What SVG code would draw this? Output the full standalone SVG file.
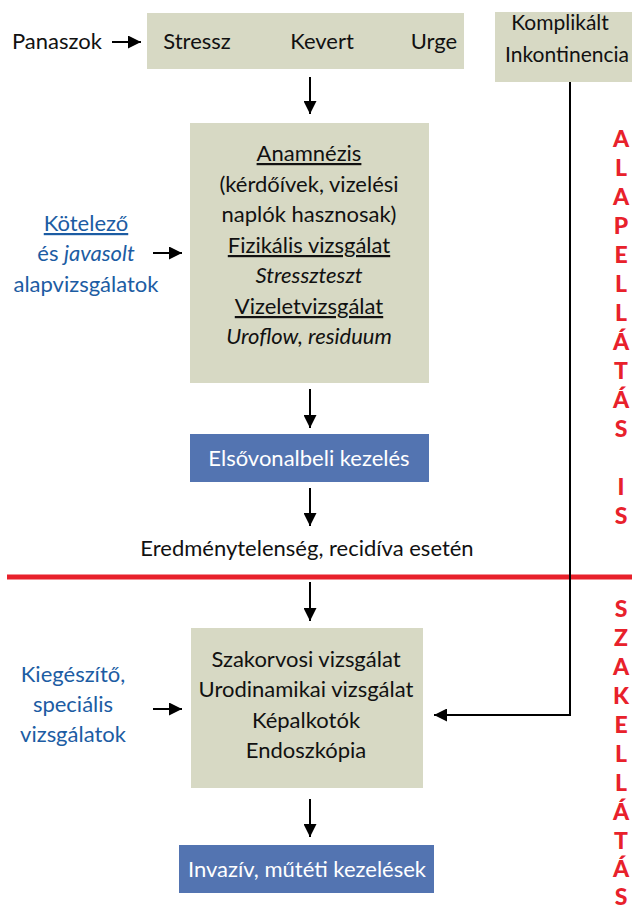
<svg xmlns="http://www.w3.org/2000/svg" width="632" height="909" viewBox="0 0 632 909">
<defs>
<marker id="ah" markerUnits="userSpaceOnUse" markerWidth="13" markerHeight="13" refX="13" refY="6.5" orient="auto">
<path d="M0,0 L13,6.5 L0,13 z" fill="#000"/>
</marker>
<style>
text{font-family:Lato,"Open Sans","Liberation Sans",sans-serif;font-size:22px;fill:#111}
.c{text-anchor:middle}
.s21{font-size:21px}
.khaki{fill:#d7d9c4}
.blue{fill:#5374b1}
.w{fill:#fff}
.bl{fill:#1c5ca3}
.red{fill:#e8212b;font-weight:900;text-anchor:middle;font-size:23px}
.conn{stroke:#000;stroke-width:2;fill:none}
.arr{marker-end:url(#ah)}
.u{text-decoration:underline}
.i{font-style:italic}
</style>
</defs>
<g id="panaszok"><text x="12" y="49">Panaszok</text></g>
<g id="tipusok">
<rect class="khaki" x="147" y="13" width="317" height="56"/>
<text class="c" x="197" y="49">Stressz</text>
<text class="c" x="322" y="49">Kevert</text>
<text class="c" x="434" y="49">Urge</text>
</g>
<g id="komplikalt">
<rect class="khaki" x="495" y="12" width="137" height="70"/>
<text class="c s21" x="560" y="30">Komplikált</text>
<text class="s21" x="505" y="62">Inkontinencia</text>
</g>
<g id="alapvizsgalatok">
<rect class="khaki" x="190" y="123" width="239" height="260"/>
<text class="c u" x="309" y="161">Anamnézis</text>
<text class="c" x="309" y="192">(kérdőívek, vizelési</text>
<text class="c" x="309" y="222">naplók hasznosak)</text>
<text class="c u" x="309" y="253">Fizikális vizsgálat</text>
<text class="c i" x="309" y="283">Stresszteszt</text>
<text class="c u" x="309" y="314">Vizeletvizsgálat</text>
<text class="c i" x="309" y="344">Uroflow, residuum</text>
</g>
<g id="kotelezo">
<text class="c bl u" x="86" y="231">Kötelező</text>
<text class="c bl" x="86" y="261">és <tspan class="i">javasolt</tspan></text>
<text class="c bl" x="86" y="292">alapvizsgálatok</text>
</g>
<g id="elsovonal">
<rect class="blue" x="190" y="434" width="239" height="48"/>
<text class="c w" x="309" y="466">Elsővonalbeli kezelés</text>
</g>
<g id="eredmenytelenseg"><text class="c" x="307" y="556">Eredménytelenség, recidíva esetén</text></g>
<g id="szakvizsgalatok">
<rect class="khaki" x="191" y="628" width="232" height="160"/>
<text class="c" x="306" y="667">Szakorvosi vizsgálat</text>
<text class="c" x="306" y="697">Urodinamikai vizsgálat</text>
<text class="c" x="306" y="728">Képalkotók</text>
<text class="c" x="306" y="758">Endoszkópia</text>
</g>
<g id="kiegeszito">
<text class="c bl" x="73" y="682">Kiegészítő,</text>
<text class="c bl" x="73" y="712">speciális</text>
<text class="c bl" x="73" y="742">vizsgálatok</text>
</g>
<g id="invaziv">
<rect class="blue" x="179" y="845" width="255" height="48"/>
<text class="c w" x="307" y="877">Invazív, műtéti kezelések</text>
</g>
<g id="alapellatas">
<text class="red" x="621" y="147">A</text>
<text class="red" x="621" y="176">L</text>
<text class="red" x="621" y="205">A</text>
<text class="red" x="621" y="234">P</text>
<text class="red" x="621" y="263">E</text>
<text class="red" x="621" y="292">L</text>
<text class="red" x="621" y="321">L</text>
<text class="red" x="621" y="350">Á</text>
<text class="red" x="621" y="379">T</text>
<text class="red" x="621" y="408">Á</text>
<text class="red" x="621" y="437">S</text>
<text class="red" x="621" y="495">I</text>
<text class="red" x="621" y="524">S</text>
</g>
<g id="szakellatas">
<text class="red" x="621" y="617">S</text>
<text class="red" x="621" y="646">Z</text>
<text class="red" x="621" y="675">A</text>
<text class="red" x="621" y="704">K</text>
<text class="red" x="621" y="733">E</text>
<text class="red" x="621" y="762">L</text>
<text class="red" x="621" y="791">L</text>
<text class="red" x="621" y="820">Á</text>
<text class="red" x="621" y="849">T</text>
<text class="red" x="621" y="877">Á</text>
<text class="red" x="621" y="905">S</text>
</g>
<g id="connectors">
<line x1="7" y1="577" x2="632" y2="577" stroke="#e8212b" stroke-width="5"/>
<line class="conn arr" x1="112" y1="42" x2="141" y2="42"/>
<line class="conn arr" x1="153" y1="253" x2="182" y2="253"/>
<line class="conn arr" x1="153" y1="709" x2="182" y2="709"/>
<line class="conn arr" x1="310" y1="77" x2="310" y2="114"/>
<line class="conn arr" x1="310" y1="389" x2="310" y2="428"/>
<line class="conn arr" x1="310" y1="488" x2="310" y2="526"/>
<line class="conn arr" x1="310" y1="582" x2="310" y2="621"/>
<line class="conn arr" x1="310" y1="799" x2="310" y2="837"/>
<polyline class="conn arr" points="570,82 570,715 434,715" stroke-width="3"/>
</g>
</svg>
